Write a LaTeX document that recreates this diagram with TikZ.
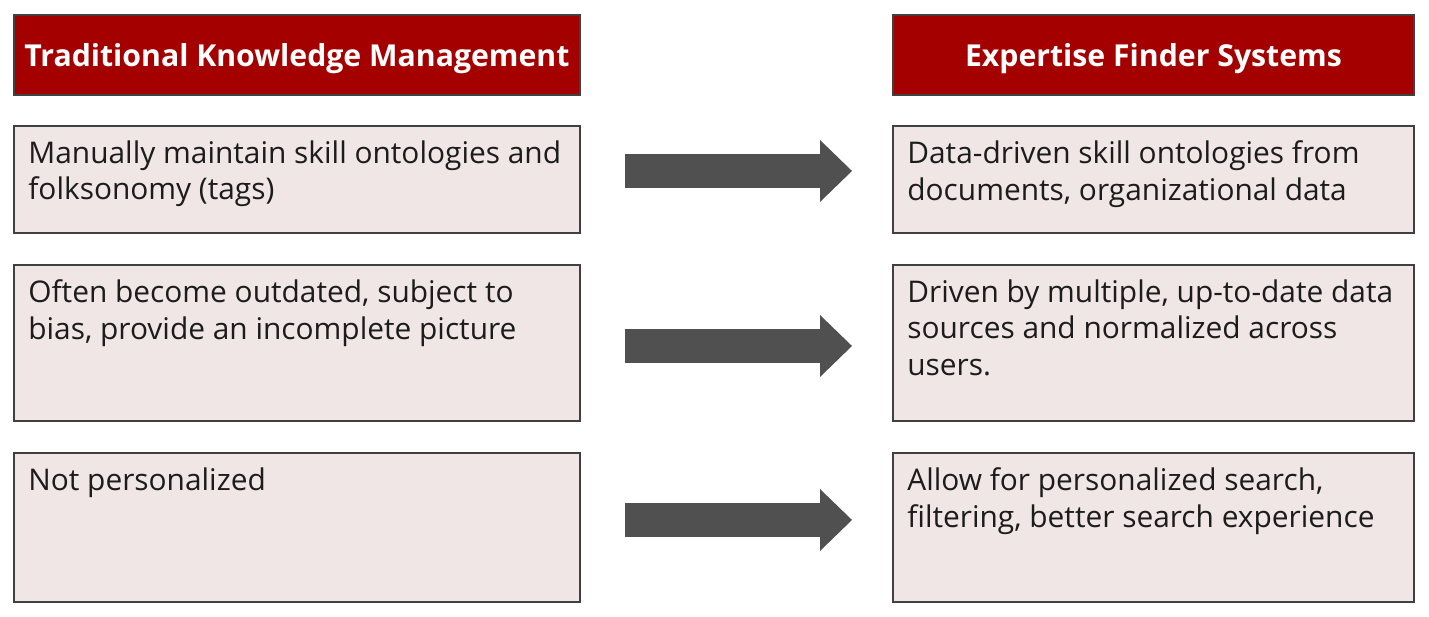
\documentclass[tikz,border=0pt]{standalone}
\usepackage{fontspec}
\setmainfont{Open Sans}
\usetikzlibrary{arrows.meta}
\definecolor{hdred}{RGB}{165,0,0}
\definecolor{cellbg}{RGB}{240,230,230}
\definecolor{rim}{RGB}{64,64,64}
\definecolor{arrgray}{RGB}{80,80,80}
\definecolor{ink}{RGB}{28,28,28}

\begin{document}
\begin{tikzpicture}[x=0.02cm,y=-0.02cm,
  box/.style={draw=rim,line width=0.9pt,anchor=north west,inner sep=0pt,outer sep=0pt},
  head/.style={box,fill=hdred,text=white,minimum height=1.6cm,text depth=0pt,font=\fontsize{17.2}{20}\selectfont\bfseries},
  cell/.style={box,fill=cellbg},
  txt/.style={anchor=north west,inner sep=0pt,align=left,text=ink,font=\fontsize{17}{21}\selectfont},
  arr/.style={arrgray,line width=0.68cm,-{Triangle[width=1.24cm,length=0.64cm,line width=0pt 0]}}]
\useasboundingbox (0,0) rectangle (1429,617);
% headers
\node[head,minimum width=11.32cm] (hl) at (14,15) {Traditional Knowledge Management};
\node[head,minimum width=10.42cm] (hr) at (893,15) {Expertise Finder Systems};
% left column
\node[cell,minimum width=11.32cm,minimum height=2.14cm] (l1) at (14,126) {};
\node[cell,minimum width=11.32cm,minimum height=3.12cm] (l2) at (14,265) {};
\node[cell,minimum width=11.32cm,minimum height=2.98cm] (l3) at (14,453) {};
% right column
\node[cell,minimum width=10.42cm,minimum height=2.14cm] (r1) at (893,126) {};
\node[cell,minimum width=10.42cm,minimum height=3.12cm] (r2) at (893,265) {};
\node[cell,minimum width=10.42cm,minimum height=2.98cm] (r3) at (893,453) {};
% texts
\node[txt] (tl1) at ([shift={(14,14)}]l1.north west) {Manually maintain skill ontologies and\\folksonomy (tags)};
\node[txt] (tl2) at ([shift={(14,14)}]l2.north west) {Often become outdated, subject to\\bias, provide an incomplete picture};
\node[txt] (tl3) at ([shift={(14,14)}]l3.north west) {Not personalized};
\node[txt] (tr1) at ([shift={(14,14)}]r1.north west) {Data-driven skill ontologies from\\documents, organizational data};
\node[txt] (tr2) at ([shift={(14,14)}]r2.north west) {Driven by multiple, up-to-date data\\sources and normalized across\\users.};
\node[txt] (tr3) at ([shift={(14,14)}]r3.north west) {Allow for personalized search,\\filtering, better search experience};
% arrows
\draw[arr] ([shift={(45,-8.5)}]l1.east) -- ([shift={(-41,-8.5)}]r1.west);
\draw[arr] ([shift={(45,3)}]l2.east) -- ([shift={(-41,3)}]r2.west);
\draw[arr] ([shift={(45,-7.5)}]l3.east) -- ([shift={(-41,-7.5)}]r3.west);
\end{tikzpicture}
\end{document}
